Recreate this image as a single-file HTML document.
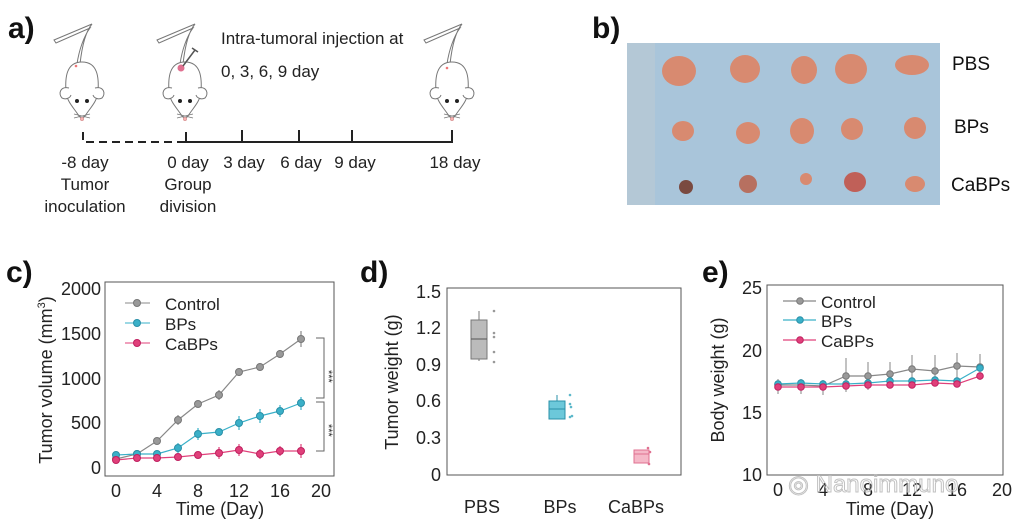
<!DOCTYPE html>
<html><head><meta charset="utf-8"><style>
html,body{margin:0;padding:0;background:#fff;}
svg{display:block;font-family:"Liberation Sans",Arial,sans-serif;}
</style></head><body>
<svg width="1024" height="525" viewBox="0 0 1024 525" xmlns="http://www.w3.org/2000/svg">
<defs>
<g id="mouse" fill="#fff" stroke="#777" stroke-width="1">
  <path d="M-2,-22 C0,-40 4,-55 10,-62 L-28,-46 L-26,-43 L8,-58 C2,-50 -3,-36 -5,-22" fill="none"/>
  <path d="M0,-24 C-16,-24 -17,-8 -16,6 C-15,16 -8,22 -3,30 L0,33 L3,30 C8,22 15,16 16,6 C17,-8 16,-24 0,-24 Z"/>
  <path d="M-13,2 C-22,0 -24,8 -20,12 C-16,14 -12,12 -11,9" />
  <path d="M13,2 C22,0 24,8 20,12 C16,14 12,12 11,9" />
  <circle cx="-5" cy="15" r="2" fill="#222" stroke="none"/>
  <circle cx="5" cy="15" r="2" fill="#222" stroke="none"/>
  <path d="M-8,28 L8,32 M-8,32 L8,28" stroke-width="0.8"/>
  <circle cx="0" cy="33" r="1.5" fill="#fbb" stroke="#d99"/>
</g>
</defs>

<!-- Panel a -->
<text x="8" y="38" font-size="30" font-weight="bold" fill="#111">a)</text>
<use href="#mouse" x="82" y="86"/>
<circle cx="76" cy="66" r="1.3" fill="#e77"/>
<use href="#mouse" x="185" y="86"/>
<circle cx="181" cy="68" r="3.5" fill="#e07090"/>
<path d="M183,66 L195,50 M192,48 L198,52" stroke="#555" stroke-width="1.5"/>
<use href="#mouse" x="452" y="86"/>
<circle cx="447" cy="68" r="1.3" fill="#e77"/>
<text x="221" y="44" font-size="17" fill="#222">Intra-tumoral injection at</text>
<text x="221" y="77" font-size="17" fill="#222">0, 3, 6, 9 day</text>
<path d="M83,132 V142 H186" stroke="#222" stroke-width="2" fill="none" stroke-dasharray="8,5"/>
<path d="M186,132 V142 H452 V130 M242,130 V142 M299,130 V142 M352,130 V142" stroke="#222" stroke-width="2" fill="none"/>
<g font-size="17" fill="#222" text-anchor="middle">
<text x="85" y="168">-8 day</text><text x="85" y="190">Tumor</text><text x="85" y="212">inoculation</text>
<text x="188" y="168">0 day</text><text x="188" y="190">Group</text><text x="188" y="212">division</text>
<text x="244" y="168">3 day</text><text x="301" y="168">6 day</text><text x="355" y="168">9 day</text><text x="455" y="168">18 day</text>
</g>

<!-- Panel b -->
<text x="592" y="38" font-size="30" font-weight="bold" fill="#111">b)</text>
<rect x="627" y="43" width="313" height="162" fill="#a9c5da"/>
<rect x="627" y="43" width="28" height="162" fill="#b4c8d6"/>
<g fill="#d88a70">
<ellipse cx="679" cy="71" rx="17" ry="15"/><ellipse cx="745" cy="69" rx="15" ry="14"/><ellipse cx="804" cy="70" rx="13" ry="14"/><ellipse cx="851" cy="69" rx="16" ry="15"/><ellipse cx="912" cy="65" rx="17" ry="10"/>
<ellipse cx="683" cy="131" rx="11" ry="10"/><ellipse cx="748" cy="133" rx="12" ry="11"/><ellipse cx="802" cy="131" rx="12" ry="13"/><ellipse cx="852" cy="129" rx="11" ry="11"/><ellipse cx="915" cy="128" rx="11" ry="11"/>
<ellipse cx="686" cy="187" rx="7" ry="7" fill="#7a4a40"/><ellipse cx="748" cy="184" rx="9" ry="9" fill="#b77060"/><ellipse cx="806" cy="179" rx="6" ry="6"/><ellipse cx="855" cy="182" rx="11" ry="10" fill="#c06058"/><ellipse cx="915" cy="184" rx="10" ry="8"/>
</g>
<g font-size="19" fill="#111"><text x="952" y="70">PBS</text><text x="954" y="133">BPs</text><text x="951" y="191">CaBPs</text></g>

<!-- Panel c -->
<text x="6" y="282" font-size="30" font-weight="bold" fill="#111">c)</text>
<rect x="105" y="282" width="229" height="194" fill="none" stroke="#555" stroke-width="1"/>
<g font-size="18" fill="#222" text-anchor="end">
<text x="101" y="295">2000</text><text x="101" y="340">1500</text><text x="101" y="385">1000</text><text x="101" y="429">500</text><text x="101" y="474">0</text>
</g>
<g font-size="18" fill="#222" text-anchor="middle">
<text x="116" y="497">0</text><text x="157" y="497">4</text><text x="198" y="497">8</text><text x="239" y="497">12</text><text x="280" y="497">16</text><text x="321" y="497">20</text>
<text x="220" y="515">Time (Day)</text>
</g>
<text transform="translate(52,380) rotate(-90)" font-size="18" fill="#222" text-anchor="middle">Tumor volume (mm<tspan font-size="11" dy="-7">3</tspan><tspan dy="7">)</tspan></text>
<g fill="none" stroke-width="1.2">
<polyline stroke="#888" points="116,459 137,454 157,441 178,420 198,404 219,395 239,372 260,367 280,354 301,339"/>
<polyline stroke="#3ab0c8" points="116,455 137,454 157,454 178,448 198,434 219,432 239,423 260,416 280,411 301,403"/>
<polyline stroke="#e0407a" points="116,460 137,458 157,458 178,457 198,455 219,453 239,450 260,454 280,451 301,451"/>
<path stroke="#888" d="M301,331 V347 M280,350 V358 M239,368 V376 M219,390 V400 M178,415 V425 M260,363 V371"/>
<path stroke="#3ab0c8" d="M301,397 V410 M280,405 V417 M260,409 V423 M239,416 V430 M198,428 V440 M178,443 V453"/>
<path stroke="#e0407a" d="M301,444 V458 M280,446 V456 M260,449 V459 M239,444 V456 M219,447 V459"/>
</g>
<g stroke-width="1">
<g fill="#999" stroke="#777"><circle cx="116" cy="459" r="3.5"/><circle cx="137" cy="454" r="3.5"/><circle cx="157" cy="441" r="3.5"/><circle cx="178" cy="420" r="3.5"/><circle cx="198" cy="404" r="3.5"/><circle cx="219" cy="395" r="3.5"/><circle cx="239" cy="372" r="3.5"/><circle cx="260" cy="367" r="3.5"/><circle cx="280" cy="354" r="3.5"/><circle cx="301" cy="339" r="3.5"/></g>
<g fill="#3ab0c8" stroke="#2a90a8"><circle cx="116" cy="455" r="3.5"/><circle cx="137" cy="454" r="3.5"/><circle cx="157" cy="454" r="3.5"/><circle cx="178" cy="448" r="3.5"/><circle cx="198" cy="434" r="3.5"/><circle cx="219" cy="432" r="3.5"/><circle cx="239" cy="423" r="3.5"/><circle cx="260" cy="416" r="3.5"/><circle cx="280" cy="411" r="3.5"/><circle cx="301" cy="403" r="3.5"/></g>
<g fill="#e0407a" stroke="#c02060"><circle cx="116" cy="460" r="3.5"/><circle cx="137" cy="458" r="3.5"/><circle cx="157" cy="458" r="3.5"/><circle cx="178" cy="457" r="3.5"/><circle cx="198" cy="455" r="3.5"/><circle cx="219" cy="453" r="3.5"/><circle cx="239" cy="450" r="3.5"/><circle cx="260" cy="454" r="3.5"/><circle cx="280" cy="451" r="3.5"/><circle cx="301" cy="451" r="3.5"/></g>
</g>
<path d="M125,303 H150 M125,323 H150 M125,343 H150" stroke-width="1.2" fill="none"/>
<path d="M125,303 H150" stroke="#888"/><path d="M125,323 H150" stroke="#3ab0c8"/><path d="M125,343 H150" stroke="#e0407a"/>
<circle cx="137" cy="303" r="3.5" fill="#999" stroke="#777"/><circle cx="137" cy="323" r="3.5" fill="#3ab0c8" stroke="#2a90a8"/><circle cx="137" cy="343" r="3.5" fill="#e0407a" stroke="#c02060"/>
<g font-size="17" fill="#222"><text x="165" y="310">Control</text><text x="165" y="330">BPs</text><text x="165" y="350">CaBPs</text></g>
<path d="M316,338 H324 V398 H316 M316,402 H324 V451 H316" fill="none" stroke="#666" stroke-width="1"/>
<text x="328" y="373" font-size="11" fill="#333" transform="rotate(90 328 370)">***</text>
<text x="328" y="427" font-size="11" fill="#333" transform="rotate(90 328 424)">***</text>

<!-- Panel d -->
<text x="360" y="282" font-size="30" font-weight="bold" fill="#111">d)</text>
<rect x="447" y="288" width="234" height="187" fill="none" stroke="#555" stroke-width="1"/>
<g font-size="18" fill="#222" text-anchor="end">
<text x="441" y="298">1.5</text><text x="441" y="334">1.2</text><text x="441" y="371">0.9</text><text x="441" y="407">0.6</text><text x="441" y="444">0.3</text><text x="441" y="481">0</text>
</g>
<text transform="translate(398,382) rotate(-90)" font-size="18" fill="#222" text-anchor="middle">Tumor weight (g)</text>
<g font-size="18" fill="#222" text-anchor="middle"><text x="482" y="513">PBS</text><text x="560" y="513">BPs</text><text x="636" y="513">CaBPs</text></g>
<path d="M479,311 V320 M479,359 V361" stroke="#777"/>
<rect x="471" y="320" width="16" height="39" fill="#bbb" stroke="#777"/><path d="M471,339 H487" stroke="#555"/>
<path d="M557,395 V401" stroke="#2a90a8"/>
<rect x="549" y="401" width="16" height="18" fill="#6cc8da" stroke="#2a90a8"/><path d="M549,409 H565" stroke="#2a90a8"/>
<rect x="634" y="450" width="15" height="13" fill="#f5b8c8" stroke="#e07090"/><path d="M634,454 H649" stroke="#e07090"/>
<g fill="#999"><circle cx="494" cy="311" r="1.3"/><circle cx="494" cy="333" r="1.3"/><circle cx="494" cy="337" r="1.3"/><circle cx="494" cy="352" r="1.3"/><circle cx="494" cy="362" r="1.3"/></g>
<g fill="#5cb8ca"><circle cx="570" cy="395" r="1.3"/><circle cx="570" cy="404" r="1.3"/><circle cx="571" cy="407" r="1.3"/><circle cx="572" cy="416" r="1.3"/><circle cx="570" cy="417" r="1.3"/></g>
<g fill="#e07090"><circle cx="648" cy="448" r="1.3"/><circle cx="650" cy="452" r="1.3"/><circle cx="649" cy="464" r="1.3"/></g>

<!-- Panel e -->
<text x="702" y="282" font-size="30" font-weight="bold" fill="#111">e)</text>
<rect x="767" y="285" width="236" height="190" fill="none" stroke="#555" stroke-width="1"/>
<g font-size="18" fill="#222" text-anchor="end">
<text x="762" y="294">25</text><text x="762" y="357">20</text><text x="762" y="419">15</text><text x="762" y="481">10</text>
</g>
<text transform="translate(724,380) rotate(-90)" font-size="18" fill="#222" text-anchor="middle">Body weight (g)</text>
<g font-size="18" fill="#222" text-anchor="middle">
<text x="778" y="496">0</text><text x="823" y="496">4</text><text x="868" y="496">8</text><text x="912" y="496">12</text><text x="957" y="496">16</text><text x="1002" y="496">20</text>
<text x="890" y="515">Time (Day)</text>
</g>
<g fill="none" stroke-width="1.2">
<polyline stroke="#888" points="778,385 801,385 823,386 846,376 868,376 890,374 912,369 935,371 957,366 980,367"/>
<polyline stroke="#3ab0c8" points="778,384 801,383 823,384 846,384 868,383 890,381 912,381 935,380 957,381 980,368"/>
<polyline stroke="#e0407a" points="778,387 801,387 823,387 846,386 868,385 890,385 912,385 935,383 957,384 980,376"/>
<path stroke="#999" d="M778,379 V394 M801,379 V394 M823,380 V395 M846,358 V392 M868,362 V390 M890,362 V388 M912,355 V383 M935,355 V386 M957,353 V380 M980,354 V380"/>
</g>
<g fill="#999" stroke="#777"><circle cx="778" cy="385" r="3.3"/><circle cx="801" cy="385" r="3.3"/><circle cx="823" cy="386" r="3.3"/><circle cx="846" cy="376" r="3.3"/><circle cx="868" cy="376" r="3.3"/><circle cx="890" cy="374" r="3.3"/><circle cx="912" cy="369" r="3.3"/><circle cx="935" cy="371" r="3.3"/><circle cx="957" cy="366" r="3.3"/><circle cx="980" cy="367" r="3.3"/></g>
<g fill="#3ab0c8" stroke="#2a90a8"><circle cx="778" cy="384" r="3.3"/><circle cx="801" cy="383" r="3.3"/><circle cx="823" cy="384" r="3.3"/><circle cx="846" cy="384" r="3.3"/><circle cx="868" cy="383" r="3.3"/><circle cx="890" cy="381" r="3.3"/><circle cx="912" cy="381" r="3.3"/><circle cx="935" cy="380" r="3.3"/><circle cx="957" cy="381" r="3.3"/><circle cx="980" cy="368" r="3.3"/></g>
<g fill="#e0407a" stroke="#c02060"><circle cx="778" cy="387" r="3.3"/><circle cx="801" cy="387" r="3.3"/><circle cx="823" cy="387" r="3.3"/><circle cx="846" cy="386" r="3.3"/><circle cx="868" cy="385" r="3.3"/><circle cx="890" cy="385" r="3.3"/><circle cx="912" cy="385" r="3.3"/><circle cx="935" cy="383" r="3.3"/><circle cx="957" cy="384" r="3.3"/><circle cx="980" cy="376" r="3.3"/></g>
<path d="M783,301 H816" stroke="#888" stroke-width="1.2"/><path d="M783,320 H816" stroke="#3ab0c8" stroke-width="1.2"/><path d="M783,340 H816" stroke="#e0407a" stroke-width="1.2"/>
<circle cx="800" cy="301" r="3.3" fill="#999" stroke="#777"/><circle cx="800" cy="320" r="3.3" fill="#3ab0c8" stroke="#2a90a8"/><circle cx="800" cy="340" r="3.3" fill="#e0407a" stroke="#c02060"/>
<g font-size="17" fill="#222"><text x="821" y="308">Control</text><text x="821" y="327">BPs</text><text x="821" y="347">CaBPs</text></g>
<text x="788" y="492" font-size="24" fill="none" stroke="#bbb" stroke-width="1" opacity="0.9">◎ Nanoimmuno</text>
</svg>
</body></html>
